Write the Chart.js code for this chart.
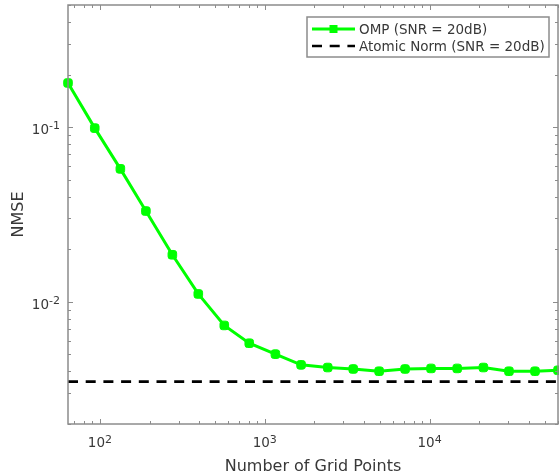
<!DOCTYPE html>
<html>
<head>
<meta charset="utf-8">
<script src="https://cdn.jsdelivr.net/npm/chart.js@4/dist/chart.umd.min.js"></script>
<style>
  html, body { margin: 0; padding: 0; background: #fff; }
  #wrap { width: 559px; height: 474px; position: relative; }
</style>
</head>
<body>
<div id="wrap"><canvas id="c" width="559" height="474"></canvas></div>
<script>
// ---- data ----
const gridPoints = [64, 93, 133, 190, 275, 395, 568, 805, 1160, 1660,
                    2410, 3440, 4940, 7100, 10200, 14700, 21200, 30300, 43600, 60100];
const ompNmse = [0.179, 0.0987, 0.0577, 0.0331, 0.0186, 0.0111, 0.00733, 0.00580, 0.00502, 0.00436,
                 0.00421, 0.00413, 0.00401, 0.00413, 0.00416, 0.00416, 0.00421, 0.00401, 0.00401, 0.00406];
const atomicNormX = [64, 60100];
const atomicNormNmse = [0.0035, 0.0035];
const seriesLabels = ['OMP (SNR = 20dB)', 'Atomic Norm (SNR = 20dB)'];
const xMajorTicks = [100, 1000, 10000];
const xMajorExps = ['2', '3', '4'];
const yMajorTicks = [0.01, 0.1];
const yMajorExps = ['-2', '-1'];
const xTitle = 'Number of Grid Points';
const yTitle = 'NMSE';

const FONT = '"DejaVu Sans", sans-serif';
const AXIS_COLOR = '#8c8c8c';
const TEXT_COLOR = '#383838';

function minorTicks(min, max) {
  const out = [];
  for (let e = Math.floor(Math.log10(min)); e <= Math.ceil(Math.log10(max)); e++) {
    for (let m = 1; m <= 9; m++) {
      const v = m * Math.pow(10, e);
      if (v >= min * 0.999 && v <= max * 1.001) out.push({ v, major: m === 1 });
    }
  }
  return out;
}

const matlabAxes = {
  id: 'matlabAxes',
  afterDatasetsDraw(chart) {
    const ctx = chart.ctx;
    const a = chart.chartArea;
    const xs = chart.scales.x, ys = chart.scales.y;
    ctx.save();
    // box
    ctx.strokeStyle = AXIS_COLOR;
    ctx.lineWidth = 1.5;
    ctx.strokeRect(a.left, a.top, a.right - a.left, a.bottom - a.top);
    // ticks
    ctx.lineWidth = 1;
    minorTicks(xs.min, xs.max).forEach(t => {
      const px = Math.round(xs.getPixelForValue(t.v)) + 0.5;
      const len = t.major ? 5 : 3;
      ctx.beginPath();
      ctx.moveTo(px, a.bottom); ctx.lineTo(px, a.bottom - len);
      ctx.moveTo(px, a.top); ctx.lineTo(px, a.top + len);
      ctx.stroke();
    });
    minorTicks(ys.min, ys.max).forEach(t => {
      const py = Math.round(ys.getPixelForValue(t.v)) + 0.5;
      const len = t.major ? 5 : 3;
      ctx.beginPath();
      ctx.moveTo(a.left, py); ctx.lineTo(a.left + len, py);
      ctx.moveTo(a.right, py); ctx.lineTo(a.right - len, py);
      ctx.stroke();
    });
    // tick labels
    ctx.fillStyle = TEXT_COLOR;
    ctx.textBaseline = 'alphabetic';
    const BASE = '13.5px ' + FONT, EXP = '11px ' + FONT;
    xMajorTicks.forEach((v, i) => {
      const px = xs.getPixelForValue(v);
      ctx.font = BASE;
      const bw = ctx.measureText('10').width;
      ctx.font = EXP;
      const ew = ctx.measureText(xMajorExps[i]).width;
      const x0 = px - (bw + ew) / 2;
      ctx.textAlign = 'left';
      ctx.font = BASE;
      ctx.fillText('10', x0, a.bottom + 23);
      ctx.font = EXP;
      ctx.fillText(xMajorExps[i], x0 + bw, a.bottom + 18.5);
    });
    yMajorTicks.forEach((v, i) => {
      const py = ys.getPixelForValue(v);
      ctx.font = EXP;
      const ew = ctx.measureText(yMajorExps[i]).width;
      const xr = a.left - 8;
      ctx.textAlign = 'right';
      ctx.fillText(yMajorExps[i], xr, py + 2);
      ctx.font = BASE;
      ctx.fillText('10', xr - ew, py + 7);
    });
    // axis titles
    ctx.font = '16px ' + FONT;
    ctx.textAlign = 'center';
    ctx.fillText(xTitle, (a.left + a.right) / 2, a.bottom + 46.5);
    ctx.save();
    ctx.translate(23, (a.top + a.bottom) / 2);
    ctx.rotate(-Math.PI / 2);
    ctx.fillText(yTitle, 0, 0);
    ctx.restore();
    // legend
    const lx = 307, ly = 17, lw = 242, lh = 40;
    ctx.fillStyle = '#fff';
    ctx.fillRect(lx, ly, lw, lh);
    ctx.strokeStyle = AXIS_COLOR;
    ctx.lineWidth = 1.5;
    ctx.strokeRect(lx, ly, lw, lh);
    const rows = [ly + 12, ly + 29];
    chart.data.datasets.forEach((ds, i) => {
      const y = rows[i];
      ctx.strokeStyle = ds.borderColor;
      ctx.lineWidth = ds.borderWidth;
      ctx.setLineDash(ds.borderDash || []);
      ctx.beginPath();
      ctx.moveTo(lx + 5, y); ctx.lineTo(lx + 48, y);
      ctx.stroke();
      ctx.setLineDash([]);
      if (ds.pointRadius > 0) {
        ctx.fillStyle = ds.pointBackgroundColor;
        const s = 4;
        ctx.fillRect(lx + 26.5 - s, y - s, 2 * s, 2 * s);
      }
      ctx.fillStyle = TEXT_COLOR;
      ctx.font = '13.5px ' + FONT;
      ctx.textAlign = 'left';
      ctx.textBaseline = 'middle';
      ctx.fillText(ds.label, lx + 52, y + 1);
    });
    ctx.restore();
  }
};

new Chart(document.getElementById('c'), {
  type: 'line',
  data: {
    datasets: [
      {
        label: seriesLabels[0],
        data: gridPoints.map((x, i) => ({ x, y: ompNmse[i] })),
        borderColor: '#00ff00',
        backgroundColor: '#00ff00',
        pointBackgroundColor: '#00ff00',
        pointBorderColor: '#00ff00',
        borderWidth: 3,
        pointStyle: 'rectRounded',
        pointRadius: 5,
        pointBorderWidth: 1,
        tension: 0,
        clip: false
      },
      {
        label: seriesLabels[1],
        data: atomicNormX.map((x, i) => ({ x, y: atomicNormNmse[i] })),
        borderColor: '#000000',
        borderWidth: 2.7,
        borderDash: [10, 7.7],
        pointRadius: 0,
        tension: 0
      }
    ]
  },
  options: {
    responsive: false,
    animation: false,
    events: [],
    layout: { autoPadding: false, padding: { left: 68, right: 1, top: 5, bottom: 50 } },
    plugins: { legend: { display: false }, tooltip: { enabled: false } },
    scales: {
      x: { type: 'logarithmic', min: 64, max: 60100, display: false },
      y: { type: 'logarithmic', min: 0.002, max: 0.5, display: false }
    }
  },
  plugins: [matlabAxes]
});
</script>
</body>
</html>
